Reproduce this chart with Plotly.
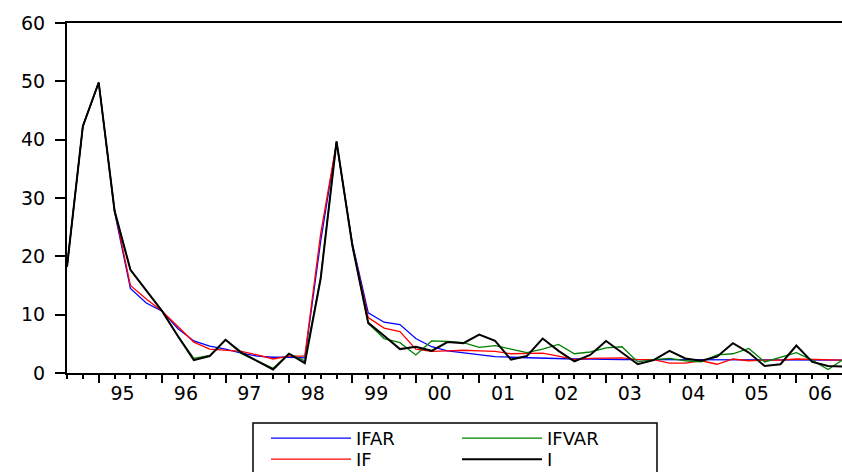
import plotly.graph_objects as go

# quarterly periods, 1994Q3 .. 2006Q4
years = [1994, 1994] + [y for y in range(1995, 2007) for _ in range(4)]
quarters = [3, 4] + [q for _ in range(1995, 2007) for q in (1, 2, 3, 4)]
period = [y + (q - 1) / 4 for y, q in zip(years, quarters)]

year_ticks = list(range(1995, 2007))
year_labels = [str(y)[2:] for y in year_ticks]

IFAR = [18.2, 42.3, 49.8, 27.6, 14.5, 12.0, 10.6, 7.6, 5.5, 4.6,
        4.1, 3.4, 2.9, 2.7, 2.7, 2.6, 22.6, 39.5, 22.2, 10.3,
        8.7, 8.3, 5.9, 4.5, 3.8, 3.5, 3.1, 2.8, 2.7, 2.6,
        2.5, 2.4, 2.4, 2.4, 2.3, 2.3, 2.3, 2.3, 2.2, 2.2,
        2.2, 2.2, 2.2, 2.2, 2.2, 2.2, 2.2, 2.2, 2.2, 2.2]
IF = [18.2, 42.3, 49.8, 28.0, 15.0, 12.7, 10.6, 8.0, 5.3, 4.1,
      3.9, 3.7, 3.1, 2.4, 2.9, 2.9, 23.9, 39.5, 22.0, 9.5,
      7.7, 7.1, 4.1, 3.7, 3.8, 3.9, 3.8, 3.7, 3.3, 3.3,
      3.4, 2.9, 2.3, 2.5, 2.6, 2.6, 2.3, 2.3, 1.7, 1.7,
      2.1, 1.5, 2.4, 2.1, 2.2, 2.2, 2.4, 2.3, 2.2, 2.2]
IFVAR = [18.2, 42.3, 49.8, 27.8, 17.7, 14.1, 10.6, 6.3, 2.5, 3.0,
         5.7, 3.3, 2.0, 0.8, 3.3, 2.1, 16.4, 39.7, 21.8, 8.5,
         5.9, 5.2, 3.1, 5.5, 5.4, 5.2, 4.4, 4.7, 4.1, 3.5,
         4.1, 4.9, 3.3, 3.6, 4.3, 4.5, 1.9, 2.3, 2.5, 2.1,
         1.9, 3.1, 3.3, 4.2, 1.9, 2.7, 3.5, 2.2, 0.6, 2.4]
I = [18.2, 42.3, 49.8, 27.8, 17.7, 14.1, 10.6, 6.3, 2.2, 2.9,
     5.7, 3.5, 2.0, 0.6, 3.3, 1.7, 16.2, 39.7, 21.8, 8.6,
     6.4, 4.1, 4.5, 3.8, 5.3, 5.1, 6.6, 5.5, 2.3, 2.9,
     5.9, 3.8, 2.0, 3.1, 5.5, 3.5, 1.5, 2.2, 3.8, 2.5,
     2.1, 2.8, 5.1, 3.5, 1.2, 1.5, 4.7, 1.9, 1.2, 1.1]

FONT = "DejaVu Sans"

W, H = 842, 472
PL, PT, PB = 67, 23, 99
plot_w, plot_h = W - PL, H - PT - PB


def px_x(x):  # pixel -> paper x
    return (x - PL) / plot_w


def px_y(y):  # pixel -> paper y
    return (H - PB - y) / plot_h


fig = go.Figure()
series = [("IFAR", IFAR, "#0000FF", 1.3, "legend"),
          ("IF", IF, "#FF0000", 1.3, "legend2"),
          ("IFVAR", IFVAR, "#008000", 1.3, "legend"),
          ("I", I, "#000000", 2.0, "legend2")]
for name, vals, color, width, leg in series:
    fig.add_trace(go.Scatter(
        x=period, y=vals, mode="lines", name=name,
        line=dict(color=color, width=width),
        legend=leg,
        xaxis="x2" if name == "I" else "x",
    ))

legend_common = dict(
    orientation="h", xanchor="left", yanchor="top",
    borderwidth=0, bgcolor="rgba(0,0,0,0)",
    entrywidth=96, itemwidth=80,
    font=dict(family=FONT, size=18),
)

fig.update_layout(
    width=W, height=H,
    margin=dict(l=PL, r=0, t=PT, b=PB, autoexpand=False),
    paper_bgcolor="white", plot_bgcolor="white",
    font=dict(family=FONT, size=19, color="black"),
    xaxis=dict(
        range=[1994.5, 2006.72],
        tickmode="array", tickvals=year_ticks, showticklabels=False,
        ticks="outside", ticklen=8, tickwidth=1.5, tickcolor="black",
        minor=dict(ticks="outside", dtick=0.25, tick0=1994.5, ticklen=4,
                   tickwidth=1.5, tickcolor="black", showgrid=False),
        showline=True, linecolor="black", linewidth=2, mirror=True,
        showgrid=False, zeroline=False,
    ),
    xaxis2=dict(
        overlaying="x", matches="x", anchor="y", side="bottom",
        tickmode="array", tickvals=[y + 0.375 for y in year_ticks],
        ticktext=year_labels, ticks="", ticklabelstandoff=7,
        showline=False, showgrid=False, zeroline=False,
    ),
    yaxis=dict(
        range=[0, 60], dtick=10,
        ticks="outside", ticklen=10, tickwidth=1.5, tickcolor="black",
        ticklabelstandoff=6,
        showline=True, linecolor="black", linewidth=2,
        showgrid=False, zeroline=False,
    ),
    legend=dict(x=px_x(266), y=px_y(420), **legend_common),
    legend2=dict(x=px_x(266), y=px_y(441), **legend_common),
    showlegend=True,
    shapes=[dict(
        type="rect", xref="paper", yref="paper",
        x0=px_x(253), x1=px_x(657), y0=px_y(423), y1=px_y(490),
        line=dict(color="black", width=1.5),
    )],
)

# drop the default page margin so the figure fills the window
fig.write_html(
    "out.html",
    config={"displayModeBar": False},
    post_script="document.body.style.margin='0';"
                "document.body.style.overflow='hidden';",
)
